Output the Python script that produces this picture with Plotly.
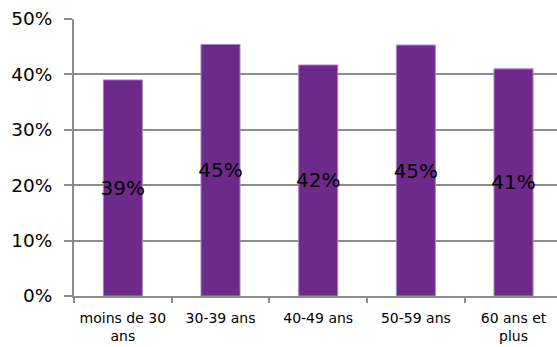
import plotly.graph_objects as go

# Age groups and their shares
categories = ["moins de 30<br>ans", "30-39 ans", "40-49 ans", "50-59 ans", "60 ans et<br>plus"]
values = [0.39, 0.454, 0.417, 0.453, 0.41]
y_ticks = [0, 0.1, 0.2, 0.3, 0.4, 0.5]
y_tick_labels = ["0%", "10%", "20%", "30%", "40%", "50%"]

labels = [f"{round(v * 100)}%" for v in values]

FONT = "DejaVu Sans"
GRID = "#8c8c8c"

fig = go.Figure(
    go.Bar(
        x=categories,
        y=values,
        width=0.4,
        marker=dict(color="#6e2a8b", line=dict(color="#a78abd", width=1)),
        text=labels,
        textposition="inside",
        insidetextanchor="middle",
        textangle=0,
        constraintext="none",
        cliponaxis=False,
        textfont=dict(family=FONT, size=20, color="#000000"),
        hoverinfo="skip",
    )
)

fig.update_layout(
    width=557,
    height=347,
    margin=dict(l=74, r=0, t=19, b=51),
    paper_bgcolor="white",
    plot_bgcolor="white",
    showlegend=False,
    font=dict(family=FONT, color="#000000"),
    bargap=0.6,
)

fig.update_xaxes(
    type="category",
    range=[-0.5, 4.445],
    showline=True,
    linecolor=GRID,
    linewidth=2,
    ticks="outside",
    tickson="boundaries",
    ticklen=5,
    tickcolor=GRID,
    tickwidth=2,
    showgrid=False,
    tickfont=dict(family=FONT, size=14, color="#000000"),
    ticklabelstandoff=8,
)

fig.update_yaxes(
    range=[0, 0.5],
    tickvals=y_ticks,
    ticktext=y_tick_labels,
    showline=True,
    linecolor=GRID,
    linewidth=2,
    ticks="outside",
    ticklen=8,
    tickcolor=GRID,
    tickwidth=2,
    showgrid=True,
    gridcolor=GRID,
    gridwidth=1.5,
    zeroline=False,
    tickfont=dict(family=FONT, size=18.5, color="#000000"),
    ticklabelstandoff=8,
)

fig.write_html("out.html")
